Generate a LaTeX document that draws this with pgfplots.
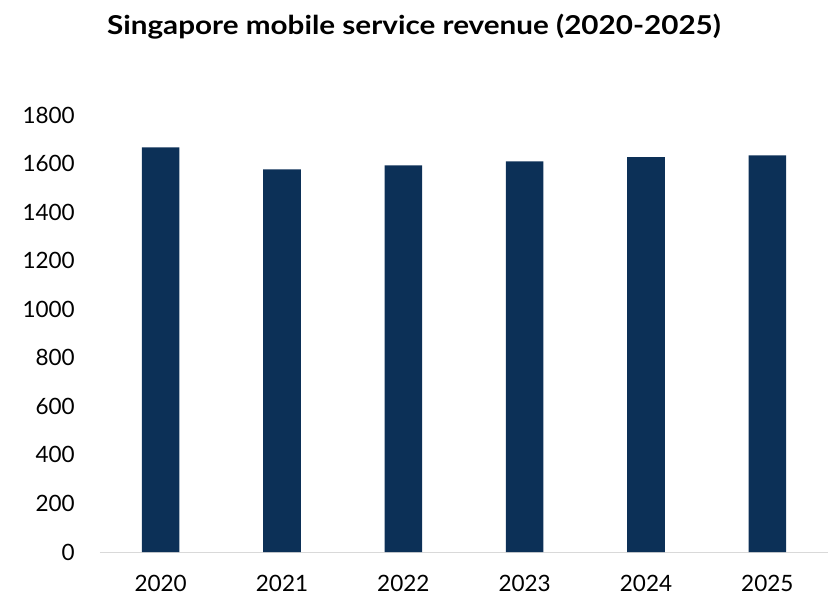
\documentclass[border=0pt]{standalone}
\usepackage{fontspec}
\setmainfont{Lato}
\newfontfamily\titlefont[FakeStretch=1.14]{Lato}
\usepackage{pgfplots}
\pgfplotsset{compat=1.18}
\definecolor{navy}{HTML}{0C3057}
\definecolor{basegray}{HTML}{D9D9D9}
\begin{document}
\begin{tikzpicture}
\path[use as bounding box] (-100bp,-53bp) rectangle (728bp,552bp);
\begin{axis}[
  at={(0,0)}, anchor=south west,
  scale only axis, width=728bp, height=437bp,
  /pgf/number format/assume math mode=true,
  ymin=0, ymax=1800, ytick={0,200,...,1800},
  xmin=-0.5, xmax=5.5, xtick=data,
  xticklabels={2020,2021,2022,2023,2024,2025},
  axis y line*=left,
  axis x line*=bottom,
  y axis line style={draw=none},
  x axis line style={basegray, line width=1bp, -},
  major tick length=0pt,
  ticklabel style={font=\fontsize{22.5bp}{26bp}\selectfont, text=black},
  yticklabel style={anchor=east, inner sep=0pt, xshift=-25bp},
  xticklabel style={anchor=north, inner sep=0pt, yshift=-23bp},
  yticklabel={\pgfmathprintnumber[fixed,1000 sep={}]{\tick}},
  ybar, bar width=0.31,
  clip=false,
]
\addplot[fill=navy, draw=none] coordinates {(0,1667) (1,1576) (2,1593) (3,1609) (4,1626) (5,1634)};
\end{axis}
\node[font=\titlefont\bfseries\fontsize{26bp}{30bp}\selectfont] at (314bp,525bp) {Singapore mobile service revenue (2020-2025)};
\end{tikzpicture}
\end{document}
